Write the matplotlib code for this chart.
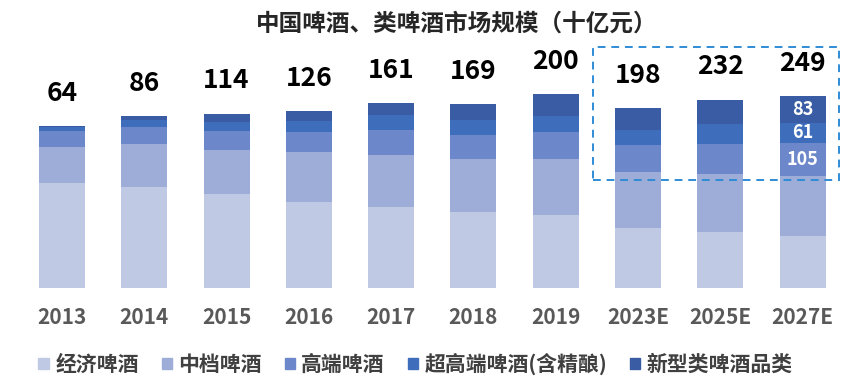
import matplotlib.pyplot as plt
from matplotlib.patches import Rectangle
import numpy as np

plt.rcParams['font.family'] = ['Noto Sans CJK SC', 'DejaVu Sans']

# 年份和各品类数据（十亿元，按图中柱高估算）
years = ['2013', '2014', '2015', '2016', '2017', '2018', '2019', '2023E', '2025E', '2027E']
series_names = ['经济啤酒', '中档啤酒', '高端啤酒', '超高端啤酒(含精酿)', '新型类啤酒品类']
jingji = [326, 313, 290, 267, 252, 235, 226, 187, 174, 161]
zhongdang = [112, 133, 137, 155, 160, 165, 174, 173, 178, 185]
gaoduan = [48, 53, 59, 62, 77, 74, 84, 84, 96, 105]
chaogaoduan = [14, 22, 28, 33, 47, 48, 50, 47, 59, 61]
xinxing = [2, 11, 27, 31, 37, 47, 66, 67, 77, 83]
totals = [64, 86, 114, 126, 161, 169, 200, 198, 232, 249]

colors = ['#BFC9E4', '#9DADD8', '#6C88CA', '#3E6DBC', '#3A5CA4']

fig = plt.figure(figsize=(8.66, 3.91), dpi=100)
ax = fig.add_axes([0, 1 - 288 / 391, 1, 288 / 391])

x = np.arange(len(years))
data = [jingji, zhongdang, gaoduan, chaogaoduan, xinxing]
bottom = np.zeros(len(years))
bars = []
for vals, c, name in zip(data, colors, series_names):
    b = ax.bar(x, vals, width=0.56, bottom=bottom, color=c, label=name, linewidth=0)
    bars.append(b)
    bottom += np.array(vals)

# 柱顶总数
for xi, top, t in zip(x, bottom, totals):
    ax.annotate(str(t), (xi, top), xytext=(0, 14), textcoords='offset points',
                ha='center', va='bottom', fontsize=19, fontweight='heavy', color='black')

# 2027E 的分段标注
last = len(years) - 1
for k in [2, 3, 4]:
    rect = bars[k][last]
    ax.text(rect.get_x() + rect.get_width() / 2, rect.get_y() + rect.get_height() / 2,
            str(data[k][last]), ha='center', va='center', fontsize=13,
            fontweight='bold', color='white')

# 虚线框
box = Rectangle((6.45, 335), 2.99, 412, fill=False, edgecolor='#2F8CD6',
                linewidth=1.4, linestyle=(0, (4, 3)), clip_on=False)
ax.add_patch(box)

ax.set_xlim(-0.753, 9.77)
ax.set_ylim(0, 893)
ax.set_xticks(x)
ax.set_xticklabels(years, fontsize=15, fontweight='bold', color='#595959')
ax.tick_params(axis='x', length=0, pad=14)
ax.set_yticks([])
for s in ax.spines.values():
    s.set_visible(False)

fig.text(0.528, 0.939, '中国啤酒、类啤酒市场规模（十亿元）', ha='center', va='center',
         fontsize=17, fontweight='heavy', color='#262626')

handles = [Rectangle((0, 0), 1, 1, color=c) for c in colors]
leg = fig.legend(handles, series_names, loc='center', bbox_to_anchor=(0.48, 0.069),
                 ncol=5, frameon=False, handlelength=0.5, handleheight=0.5,
                 handletextpad=0.3, columnspacing=1.1,
                 prop={'size': 15, 'weight': 'bold'})
for t in leg.get_texts():
    t.set_color('#404040')

fig.savefig('out.png', dpi=100)
